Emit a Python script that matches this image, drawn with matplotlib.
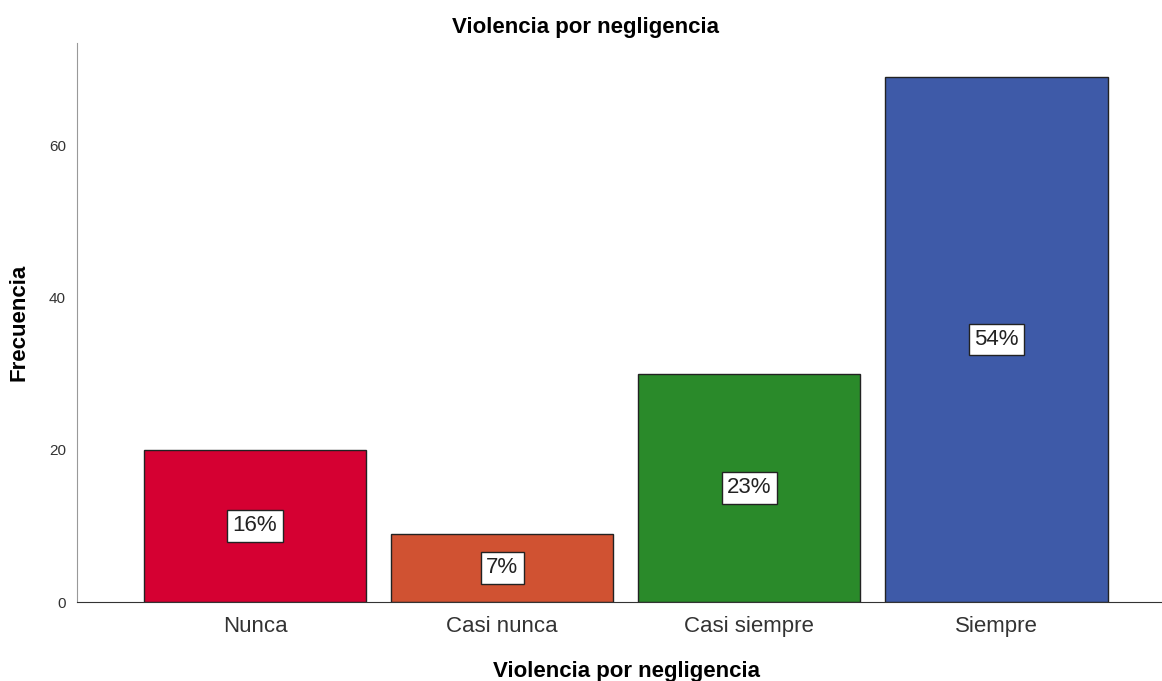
import matplotlib.pyplot as plt

plt.rcParams['font.family'] = ['Liberation Sans', 'DejaVu Sans']

categorias = ['Nunca', 'Casi nunca', 'Casi siempre', 'Siempre']
frecuencia = [20, 9, 30, 69]
porcentajes = ['16%', '7%', '23%', '54%']
colores = ['#D50032', '#D05232', '#2A8A2A', '#3E5AA8']

fig = plt.figure(figsize=(11.62, 6.81), dpi=100)
ax = fig.add_axes([0.0663, 0.116, 0.9337, 0.821])

x = range(len(categorias))
ax.bar(x, frecuencia, width=0.9, color=colores, edgecolor='#222222', linewidth=1.0)

for i, v in enumerate(frecuencia):
    ax.text(i, v / 2, porcentajes[i], ha='center', va='center', fontsize=16, color='#222222',
            bbox=dict(boxstyle='square,pad=0.24', facecolor='white', edgecolor='#222222', linewidth=1))

ax.set_xlim(-0.72, 3.67)
ax.set_ylim(0, 73.5)
ax.set_yticks([0, 20, 40, 60])
ax.set_xticks(list(x))
ax.set_xticklabels(categorias, fontsize=16, color='#333333')
ax.tick_params(axis='y', labelsize=11, colors='#333333', length=0, pad=8)
ax.tick_params(axis='x', length=0, pad=10)

ax.spines['top'].set_visible(False)
ax.spines['right'].set_visible(False)
ax.spines['left'].set_color('#999999')
ax.spines['bottom'].set_color('#333333')

fig.text(0.504, 0.96, 'Violencia por negligencia', fontsize=16, fontweight='bold',
         ha='center', va='center')
ax.set_xlabel('Violencia por negligencia', fontsize=16, fontweight='bold', labelpad=14)
ax.xaxis.set_label_coords(0.506, -0.105)
ax.set_ylabel('Frecuencia', fontsize=16, fontweight='bold', labelpad=14)

plt.savefig('out.png', dpi=100)
